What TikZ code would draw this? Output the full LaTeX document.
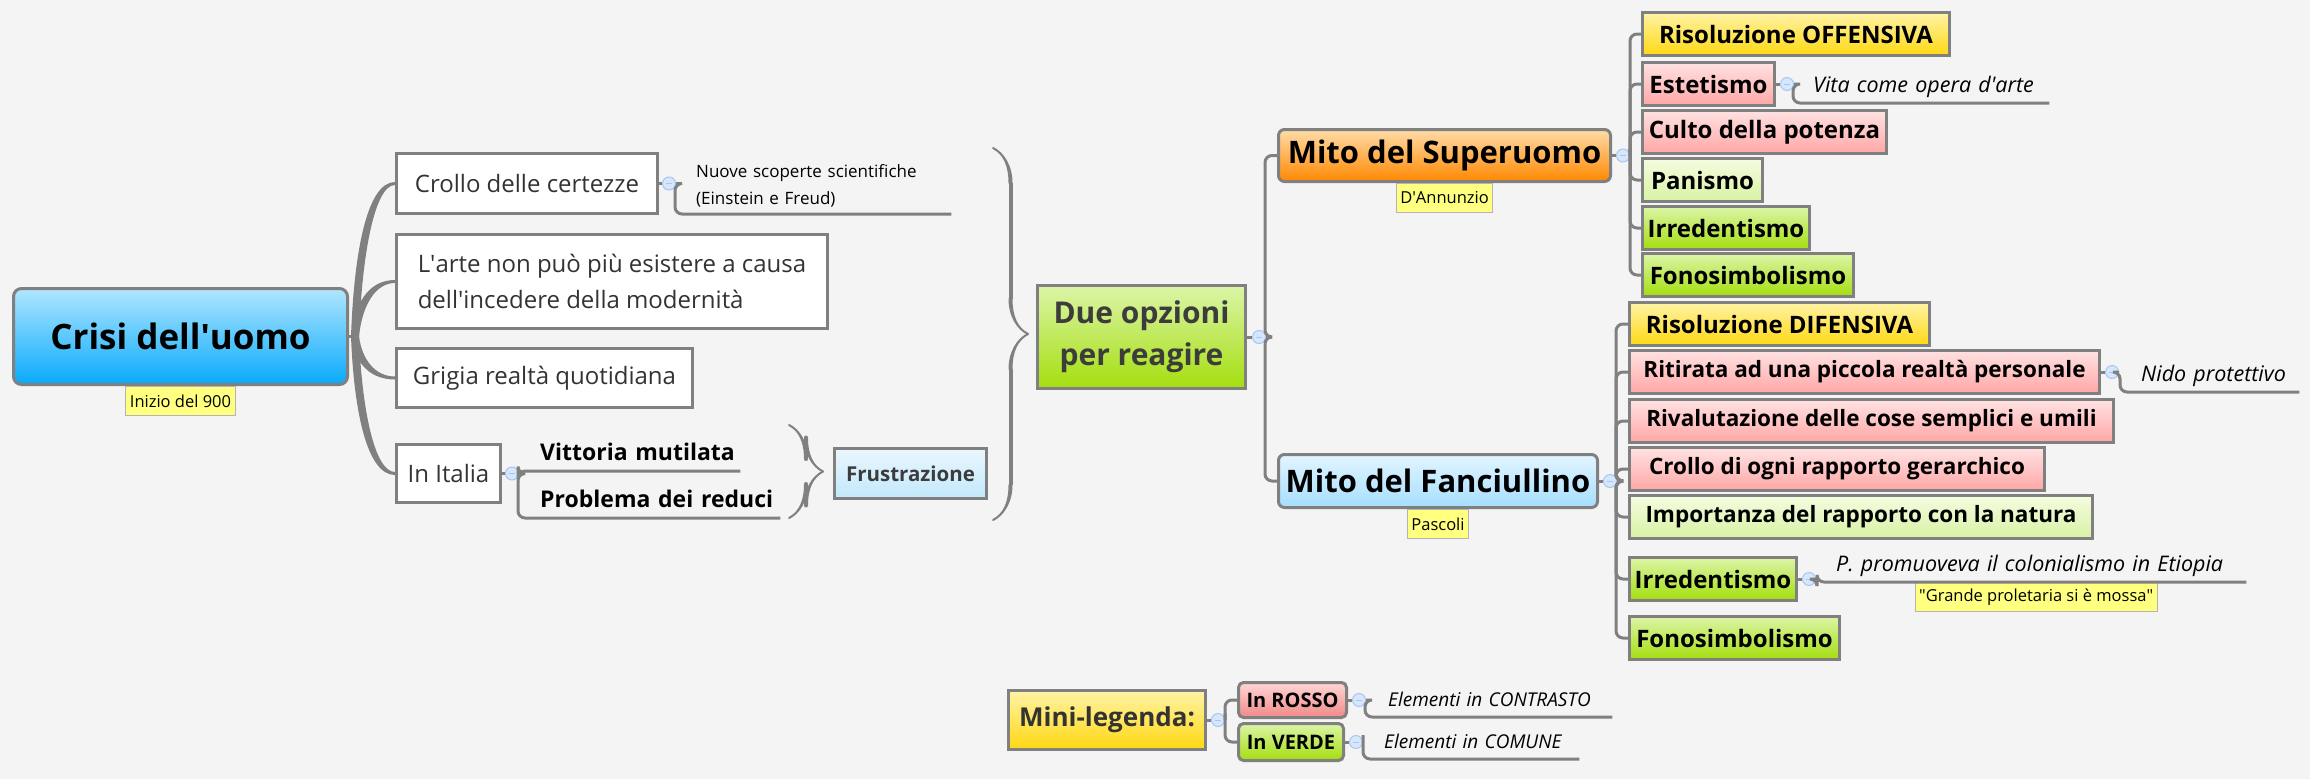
\documentclass[tikz,border=0pt]{standalone}
\usepackage{fontspec}
\setmainfont{Open Sans}
\usepackage{tikz}
\usetikzlibrary{positioning,calc,decorations.pathreplacing,calligraphy}

\definecolor{bggray}{HTML}{F4F4F4}
\definecolor{linegray}{HTML}{808080}
\definecolor{txtgray}{HTML}{333333}
\definecolor{darktxt}{HTML}{3C3C3C}
\definecolor{tagyellow}{HTML}{FFFF80}
\definecolor{tagborder}{HTML}{B4B4B4}
\definecolor{dotfill}{HTML}{D6E6FC}
\definecolor{dotborder}{HTML}{A8C6F0}
\definecolor{roottop}{HTML}{B0E6FF}
\definecolor{rootbot}{HTML}{08AAFB}
\definecolor{orangetop}{HTML}{FFDCA8}
\definecolor{orangebot}{HTML}{FF8800}
\definecolor{skytop}{HTML}{E2F5FF}
\definecolor{skybot}{HTML}{A6DEFF}
\definecolor{frosttop}{HTML}{EAF7FF}
\definecolor{frostbot}{HTML}{C2E8FA}
\definecolor{yellowtop}{HTML}{FFF3A6}
\definecolor{yellowbot}{HTML}{FFD812}
\definecolor{pinktop}{HTML}{FFE2E2}
\definecolor{pinkbot}{HTML}{FFA6A6}
\definecolor{paletop}{HTML}{F5FCE0}
\definecolor{palebot}{HTML}{D8F2A4}
\definecolor{greentop}{HTML}{DCF5A8}
\definecolor{greenbot}{HTML}{A4DE0E}
\definecolor{redtop}{HTML}{FFD6D6}
\definecolor{redbot}{HTML}{F08888}

\begin{document}
\begin{tikzpicture}[x=1pt, y=-1pt,
    box/.style={draw=linegray, line width=3pt, inner sep=0pt, anchor=north west},
    plainbox/.style={box, fill=white, text=txtgray, font=\fontsize{24}{36}\selectfont},
    itembox/.style={box, minimum height=43pt, font=\bfseries\fontsize{24}{28}\selectfont},
    longitem/.style={itembox, font=\bfseries\fontsize{22.5}{28}\selectfont},
    mythbox/.style={box, rounded corners=6pt, font=\bfseries\fontsize{31}{36}\selectfont},
    yellowfill/.style={top color=yellowtop, bottom color=yellowbot},
    pinkfill/.style={top color=pinktop, bottom color=pinkbot},
    palefill/.style={top color=paletop, bottom color=palebot},
    greenfill/.style={top color=greentop, bottom color=greenbot},
    tag/.style={draw=tagborder, line width=1pt, fill=tagyellow, inner xsep=4pt, inner ysep=0pt,
        minimum height=29pt, font=\fontsize{16.5}{18}\selectfont},
    dot/.style={circle, draw=dotborder, fill=dotfill, line width=1pt, minimum size=13pt, inner sep=0pt},
    note/.style={anchor=south west, inner xsep=0pt, inner ysep=7pt, align=left},
    onenote/.style={note, inner ysep=8pt, text height=.75em, text depth=.25em},
    inote/.style={onenote, font=\itshape\fontsize{21.5}{26}\selectfont},
    branch/.style={draw=linegray, line width=3pt, rounded corners=7pt},
    bracket/.style={decorate, decoration={calligraphic brace, amplitude=#1}, line width=4pt, pen colour={linegray}},
]
\path[use as bounding box, fill=bggray] (0,0) rectangle (2310,779);

% root and first level
\node[box, rounded corners=8pt, top color=roottop, bottom color=rootbot, minimum width=334pt, minimum height=96pt,
    font=\bfseries\fontsize{35}{40}\selectfont] (crisi) at (12,287) {Crisi dell\textquotesingle uomo};
\node[tag, below=0pt of crisi] (inizio) {Inizio del 900};

\node[plainbox, minimum width=261pt, minimum height=60pt] (crollo) at (395,152) {Crollo delle certezze};
\node[plainbox, minimum width=431pt, minimum height=94pt, align=left] (arte) at (395,233) {L\textquotesingle arte non può più esistere a causa\\dell\textquotesingle incedere della modernità};
\node[plainbox, minimum width=296pt, minimum height=59pt] (grigia) at (395,347) {Grigia realtà quotidiana};
\node[plainbox, minimum width=104pt, minimum height=58pt] (italia) at (395,443) {In Italia};

\coordinate (fan) at ($(crisi.east)+(6,0)$);
\draw[branch] (crisi) -- (fan);
\foreach \c/\s in {crollo/1,arte/1,grigia/-1,italia/-1}
    \fill[linegray] let \p1=(fan), \p2=(\c.west) in
        ({\x1-4pt},\y1) .. controls ({\x1-1pt},{0.45*\y1+0.55*\y2}) and ({\x1+12pt},{\y2+(\s*1.5pt)}) .. (\x2,{\y2+(\s*1.5pt)})
        -- (\x2,{\y2-(\s*1.5pt)}) .. controls ({\x1+20pt},{\y2-(\s*1.5pt)}) and ({\x1+7pt},{0.45*\y1+0.55*\y2}) .. ({\x1+4pt},\y1) -- cycle;

\node[dot, right=3pt of crollo] (crollodot) {\color{dotborder}\rule{6pt}{0.8pt}};
\node[note, font=\fontsize{17}{27}\selectfont, text width=255pt] (scoperte) at (696,214) {Nuove scoperte scientifiche\\(Einstein e Freud)};
\draw[branch] (crollo) -- (crollodot);
\draw[branch] (crollodot.east) -| ([xshift=-21pt]scoperte.south west) -- (scoperte.south east);

\node[dot, right=3pt of italia] (italiadot) {\color{dotborder}\rule{6pt}{0.8pt}};
\node[onenote, font=\bfseries\fontsize{23}{26}\selectfont, text width=200pt] (vittoria) at (540,471) {Vittoria mutilata};
\node[onenote, font=\bfseries\fontsize{23}{26}\selectfont, text width=240pt] (reduci) at (540,518) {Problema dei reduci};
\draw[branch] (italia) -- (italiadot);
\draw[branch] (italiadot.east) -| ([xshift=-22pt]vittoria.south west) -- (vittoria.south east);
\draw[branch] (italiadot.east) -| ([xshift=-22pt]reduci.south west) -- (reduci.south east);

\node[box, top color=frosttop, bottom color=frostbot, minimum width=152pt, minimum height=50pt, text=darktxt,
    font=\bfseries\fontsize{20.5}{24}\selectfont] (frustrazione) at (833,447) {Frustrazione};
\draw[bracket=34pt] (789,425) -- (789,518);

% the two options
\draw[bracket=35pt] (993,148) -- (993,520);
\node[box, greenfill, minimum width=208pt, minimum height=103pt, align=center, text=darktxt,
    font=\bfseries\fontsize{30}{42}\selectfont] (opzioni) at (1036,284) {Due opzioni\\per reagire};
\node[dot, right=5pt of opzioni] (opzdot) {\color{dotborder}\rule{6pt}{0.8pt}};

\node[mythbox, top color=orangetop, bottom color=orangebot, minimum width=332pt, minimum height=52pt] (superuomo) at (1277,128) {Mito del Superuomo};
\node[tag, below=0pt of superuomo] (dannunzio) {D\textquotesingle Annunzio};
\node[mythbox, top color=skytop, bottom color=skybot, minimum width=319pt, minimum height=53pt] (fanciullino) at (1277,453) {Mito del Fanciullino};
\node[tag, below=0pt of fanciullino] (pascoli) {Pascoli};
\draw[branch] (opzioni) -- (opzdot);
\draw[branch] (opzdot.east) -| ([xshift=-12pt]superuomo.west) -- (superuomo.west);
\draw[branch] (opzdot.east) -| ([xshift=-12pt]fanciullino.west) -- (fanciullino.west);

% superuomo
\node[itembox, yellowfill, minimum width=307pt] (offensiva) at (1641,11) {Risoluzione OFFENSIVA};
\node[itembox, pinkfill, minimum width=132pt] (estetismo) at (1641,61) {Estetismo};
\node[itembox, pinkfill, minimum width=244pt] (culto) at (1641,109) {Culto della potenza};
\node[itembox, palefill, minimum width=120pt] (panismo) at (1641,157) {Panismo};
\node[itembox, greenfill, minimum width=167pt] (irredA) at (1641,205) {Irredentismo};
\node[itembox, greenfill, minimum width=211pt] (fonoA) at (1641,252) {Fonosimbolismo};
\node[dot, right=4pt of superuomo] (supdot) {\color{dotborder}\rule{6pt}{0.8pt}};
\draw[branch] (superuomo) -- (supdot);
\foreach \n in {offensiva,estetismo,culto,panismo,irredA,fonoA}
    \draw[branch] (supdot.east) -| ([xshift=-11pt]\n.west) -- (\n.west);

\node[dot, right=4pt of estetismo] (estdot) {\color{dotborder}\rule{6pt}{0.8pt}};
\node[inote, text width=236pt] (vita) at (1813,103) {Vita come opera d\textquotesingle arte};
\draw[branch] (estetismo) -- (estdot);
\draw[branch] (estdot.east) -| ([xshift=-20pt]vita.south west) -- (vita.south east);

% fanciullino
\node[itembox, yellowfill, minimum width=300pt] (difensiva) at (1628,301) {Risoluzione DIFENSIVA};
\node[longitem, pinkfill, minimum width=470pt] (ritirata) at (1628,349) {Ritirata ad una piccola realtà personale};
\node[longitem, pinkfill, minimum width=484pt] (umili) at (1628,398) {Rivalutazione delle cose semplici e umili};
\node[longitem, pinkfill, minimum width=415pt] (gerarchia) at (1628,446) {Crollo di ogni rapporto gerarchico};
\node[longitem, palefill, minimum width=463pt] (natura) at (1628,494) {Importanza del rapporto con la natura};
\node[itembox, greenfill, minimum width=167pt] (irredB) at (1628,556) {Irredentismo};
\node[itembox, greenfill, minimum width=210pt] (fonoB) at (1628,615) {Fonosimbolismo};
\node[dot, right=4pt of fanciullino] (fandot) {\color{dotborder}\rule{6pt}{0.8pt}};
\draw[branch] (fanciullino) -- (fandot);
\foreach \n in {difensiva,ritirata,umili,gerarchia,natura,irredB,fonoB}
    \draw[branch] (fandot.east) -| ([xshift=-12pt]\n.west) -- (\n.west);

\node[dot, right=4pt of ritirata] (ritdot) {\color{dotborder}\rule{6pt}{0.8pt}};
\node[inote, text width=158pt] (nido) at (2141,392) {Nido protettivo};
\draw[branch] (ritirata) -- (ritdot);
\draw[branch] (ritdot.east) -| ([xshift=-21pt]nido.south west) -- (nido.south east);

\node[dot, right=4pt of irredB] (irrdot) {\color{dotborder}\rule{6pt}{0.8pt}};
\node[inote, text width=410pt] (etiopia) at (1836,582) {P. promuoveva il colonialismo in Etiopia};
\node[tag, below=0pt of etiopia, xshift=-5pt] (proletaria) {\textquotedbl Grande proletaria si è mossa\textquotedbl};
\draw[branch] (irredB) -- (irrdot);
\draw[branch] (irrdot.east) -| ([xshift=-19pt]etiopia.south west) -- (etiopia.south east);

% legend
\node[box, yellowfill, minimum width=197pt, minimum height=59pt, text=txtgray,
    font=\bfseries\fontsize{26}{30}\selectfont] (legenda) at (1007,689) {Mini-legenda:};
\node[box, rounded corners=5pt, top color=redtop, bottom color=redbot, minimum width=108pt, minimum height=35pt,
    font=\bfseries\fontsize{20}{24}\selectfont] (rosso) at (1237,681) {In ROSSO};
\node[box, rounded corners=5pt, greenfill, minimum width=105pt, minimum height=37pt,
    font=\bfseries\fontsize{20}{24}\selectfont] (verde) at (1237,722) {In VERDE};
\node[dot, right=4pt of legenda] (legdot) {\color{dotborder}\rule{6pt}{0.8pt}};
\draw[branch] (legenda) -- (legdot);
\draw[branch] (legdot.east) -| ([xshift=-12pt]rosso.west) -- (rosso.west);
\draw[branch] (legdot.east) -| ([xshift=-12pt]verde.west) -- (verde.west);

\node[dot, right=4pt of rosso] (rossodot) {\color{dotborder}\rule{6pt}{0.8pt}};
\node[inote, font=\itshape\fontsize{19}{24}\selectfont, text width=224pt] (contrasto) at (1388,717) {Elementi in CONTRASTO};
\draw[branch] (rosso) -- (rossodot);
\draw[branch] (rossodot.east) -| ([xshift=-23pt]contrasto.south west) -- (contrasto.south east);

\node[dot, right=4pt of verde] (verdedot) {\color{dotborder}\rule{6pt}{0.8pt}};
\node[inote, font=\itshape\fontsize{19}{24}\selectfont, text width=195pt] (comune) at (1384,759) {Elementi in COMUNE};
\draw[branch] (verde) -- (verdedot);
\draw[branch] (verdedot.east) -| ([xshift=-21pt]comune.south west) -- (comune.south east);
\end{tikzpicture}
\end{document}
